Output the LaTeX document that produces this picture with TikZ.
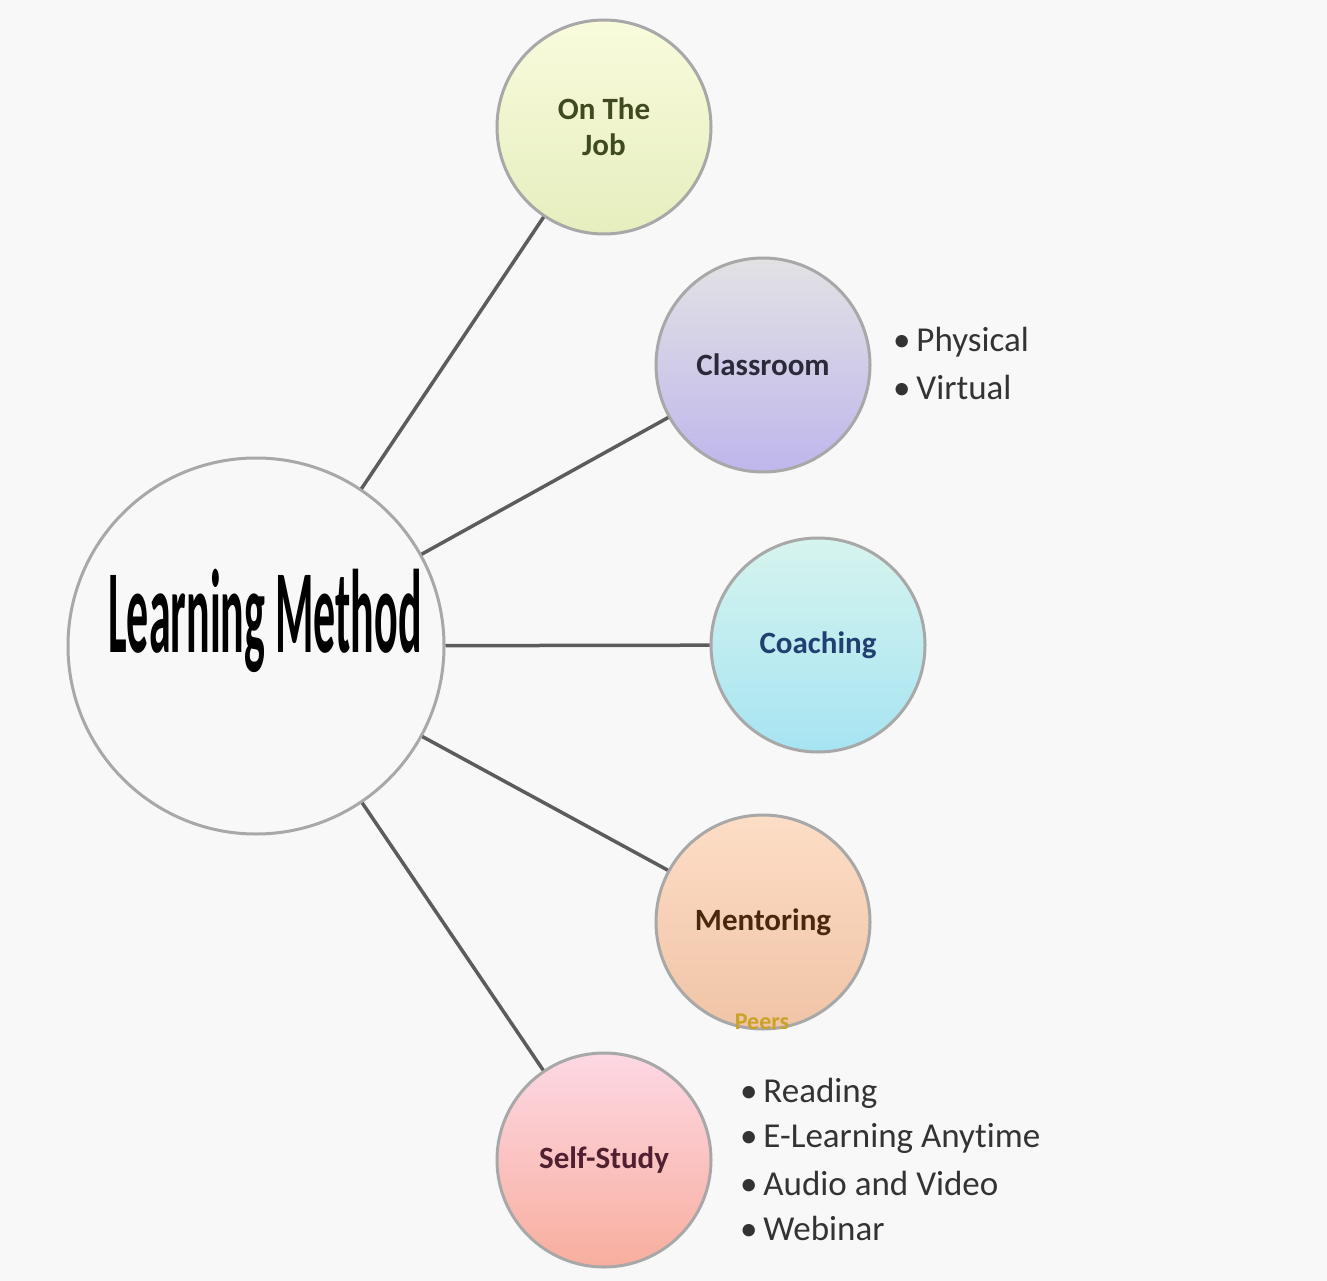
\documentclass[tikz,border=0pt]{standalone}
\usepackage{fontspec}
\setmainfont{Carlito}[Ligatures=NoCommon]
\usetikzlibrary{shadings}
\definecolor{bg}{HTML}{F8F8F8}
\definecolor{ring}{HTML}{A8A8A8}
\definecolor{link}{HTML}{5C5C5C}
\definecolor{listtxt}{HTML}{333333}
\definecolor{ojtop}{HTML}{F9FBDC}\definecolor{ojbot}{HTML}{E6EEBE}\definecolor{ojtxt}{HTML}{3F4A20}
\definecolor{cltop}{HTML}{E2E2E4}\definecolor{clmid}{HTML}{D8D3F6}\definecolor{clbot}{HTML}{BFB6EC}\definecolor{cltxt}{HTML}{2A2A3A}
\definecolor{cotop}{HTML}{D6F4EE}\definecolor{comid}{HTML}{C8E8FA}\definecolor{cobot}{HTML}{A6E4F2}\definecolor{cotxt}{HTML}{1F4070}
\definecolor{metop}{HTML}{FDDDC6}\definecolor{mebot}{HTML}{F0C4A6}\definecolor{metxt}{HTML}{4A2810}
\definecolor{sstop}{HTML}{FDD8E4}\definecolor{ssmid}{HTML}{EBC2CC}\definecolor{ssbot}{HTML}{F8AE9E}\definecolor{sstxt}{HTML}{502030}
\definecolor{peerc}{HTML}{C9A227}
\tikzset{
  bubble/.style={circle, draw=ring, line width=3pt, minimum size=214pt, inner sep=0pt, align=center,
                 font=\fontsize{31}{36}\selectfont\bfseries},
  conn/.style={draw=link, line width=3.5pt},
  listitem/.style={anchor=west, inner sep=0pt, text=listtxt, font=\fontsize{35}{38}\selectfont},
}
\begin{document}
\begin{tikzpicture}[x=1pt,y=-1pt]
\useasboundingbox (0,0) rectangle (1327,1281);
\fill[bg] (0,0) rectangle (1327,1281);

% central circle
\node[circle, draw=ring, line width=3pt, minimum size=376pt, inner sep=0pt, fill=bg] (lm) at (256,646) {};
\node[inner sep=0pt, anchor=base] (lmt) at (265,652)
  {\scalebox{1}[2.7]{\fontsize{44}{50}\selectfont\bfseries Learning Method}};

% satellites
\node[bubble, top color=ojtop, bottom color=ojbot, text=ojtxt] (oj) at (604,127) {On The\\Job};
\node[bubble, top color=cltop, middle color=clmid, bottom color=clbot, text=cltxt] (cl) at (763,365) {Classroom};
\node[bubble, top color=cotop, middle color=comid, bottom color=cobot, text=cotxt] (co) at (818,645) {Coaching};
\node[bubble, top color=metop, bottom color=mebot, text=metxt] (me) at (763,922) {Mentoring};
\node[bubble, top color=sstop, middle color=ssmid, bottom color=ssbot, text=sstxt] (ss) at (604,1160) {Self-Study};

% connectors
\path[conn] (lm) -- (oj);
\path[conn] (lm) -- (cl);
\path[conn] (lm) -- (co);
\path[conn] (lm) -- (me);
\path[conn] (lm) -- (ss);

% peers label (partly hidden)
\node[inner sep=0pt, text=peerc, font=\fontsize{24}{28}\selectfont\bfseries] (peers) at (762,1022) {Peers};

% classroom list
\node[listitem] (phys) at (893,342) {•\,Physical};
\node[listitem] (virt) at (893,387) {•\,Virtual};

% self-study list
\node[listitem] (rd) at (740,1093) {•\,Reading};
\node[listitem] (el) at (740,1138) {•\,E-Learning Anytime};
\node[listitem] (av) at (740,1183) {•\,Audio and Video};
\node[listitem] (wb) at (740,1228) {•\,Webinar};
\end{tikzpicture}
\end{document}
